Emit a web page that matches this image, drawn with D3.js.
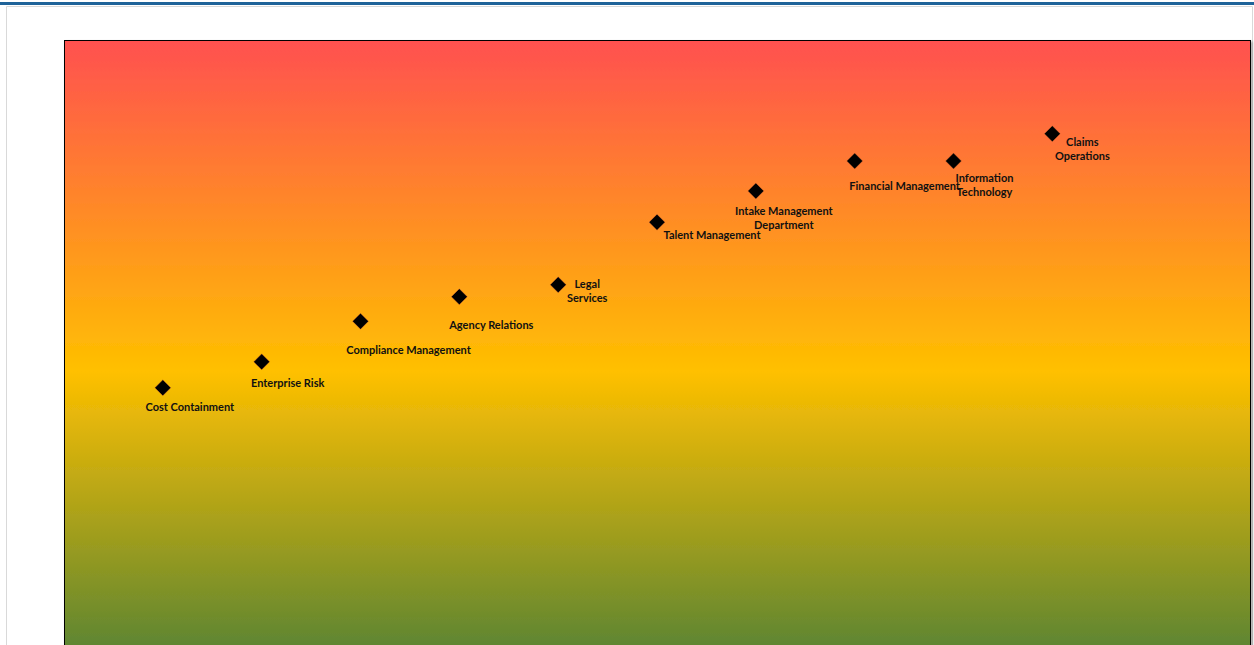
<!DOCTYPE html>
<html>
<head>
<meta charset="utf-8">
<script src="https://cdn.jsdelivr.net/npm/d3@7"></script>
<style>
  body { margin: 0; background: #fff; }
  svg { display: block; }
</style>
</head>
<body>
<svg></svg>
<script>
// data
const departments = ['Cost Containment', 'Enterprise Risk', 'Compliance Management', 'Agency Relations',
    'Legal Services', 'Talent Management', 'Intake Management Department', 'Financial Management',
    'Information Technology', 'Claims Operations']
const positions = [1, 2, 3, 4, 5, 6, 7, 8, 9, 10]
const scores = [47.7, 51.6, 57.7, 61.4, 63.2, 72.6, 77.3, 81.8, 81.8, 85.9]
// label lines (manual wraps as in the original)
const labelLines = [['Cost Containment'], ['Enterprise Risk'], ['Compliance Management'], ['Agency Relations'],
    ['Legal', 'Services'], ['Talent Management'], ['Intake Management', 'Department'], ['Financial Management'],
    ['Information', 'Technology'], ['Claims', 'Operations']]

// label placement (layout only)
const labelDx = [27, 26, 48, 32, 29, 55, 28, 50, 31, 30]
const labelDy = [18, 20, 28, 27, -2, 12, 19, 24, 16, 7]

const width = 1254
const height = 645
const plot = { left: 64, right: 1250, top: 40, bottom: 705 }

const svg = d3.select('svg')
    .attr('width', width)
    .attr('height', height)

// page frame
svg.append('rect')
    .attr('x', 0).attr('y', 2)
    .attr('width', width).attr('height', 3)
    .attr('fill', '#1f6399')
svg.append('path')
    .attr('d', `M6.5,${height} V6.5 H1252.5 V${height}`)
    .attr('fill', 'none')
    .attr('stroke', '#d9d9d9')
    .attr('stroke-width', 1)

const xScale = d3.scaleLinear()
    .domain([0, 12])
    .range([plot.left, plot.right])

const yScale = d3.scaleLinear()
    .domain([0, 100])
    .range([plot.bottom, plot.top])

const defs = svg.append('defs')
const grad = defs.append('linearGradient')
    .attr('id', 'bg')
    .attr('gradientUnits', 'userSpaceOnUse')
    .attr('x1', 0).attr('y1', plot.top)
    .attr('x2', 0).attr('y2', 665)
grad.append('stop').attr('offset', '0%').attr('stop-color', '#ff5050')
grad.append('stop').attr('offset', '53%').attr('stop-color', '#ffc000')
grad.append('stop').attr('offset', '100%').attr('stop-color', '#548235')

const shadow = defs.append('filter')
    .attr('id', 'shadow')
    .attr('x', '-5%').attr('y', '-5%')
    .attr('width', '110%').attr('height', '110%')
shadow.append('feDropShadow')
    .attr('dx', 1.5).attr('dy', 1.5)
    .attr('stdDeviation', 1)
    .attr('flood-color', '#000')
    .attr('flood-opacity', 0.35)

svg.append('rect')
    .attr('x', plot.left + 0.5)
    .attr('y', plot.top + 0.5)
    .attr('width', plot.right - plot.left)
    .attr('height', plot.bottom - plot.top)
    .attr('fill', 'url(#bg)')
    .attr('stroke', '#000')
    .attr('stroke-width', 1)
    .attr('filter', 'url(#shadow)')

const g = svg.append('g')

const diamond = d3.symbol().type(d3.symbolSquare).size(128)

g.selectAll('.point')
    .data(departments)
    .enter()
    .append('path')
    .classed('point', true)
    .attr('d', diamond)
    .attr('transform', (d, i) => `translate(${xScale(positions[i])},${yScale(scores[i])}) rotate(45)`)
    .attr('fill', '#000')
    .attr('stroke', '#ff7a3a')
    .attr('stroke-width', 0.6)
    .attr('stroke-opacity', 0.6)

const labels = g.selectAll('.label')
    .data(departments)
    .enter()
    .append('text')
    .classed('label', true)
    .attr('x', (d, i) => xScale(positions[i]) + labelDx[i])
    .attr('y', (d, i) => yScale(scores[i]) + labelDy[i])
    .attr('text-anchor', 'middle')
    .attr('dominant-baseline', 'central')
    .style('font-family', 'Lato, "Open Sans", sans-serif')
    .style('font-weight', 'bold')
    .style('font-size', '11px')
    .attr('fill', '#111')

labels.each(function (d, i) {
    const x = xScale(positions[i]) + labelDx[i]
    d3.select(this).selectAll('tspan')
        .data(labelLines[i])
        .enter()
        .append('tspan')
        .attr('x', x)
        .attr('dy', (t, j) => j === 0 ? 0 : 14)
        .text(t => t)
})
</script>
</body>
</html>
